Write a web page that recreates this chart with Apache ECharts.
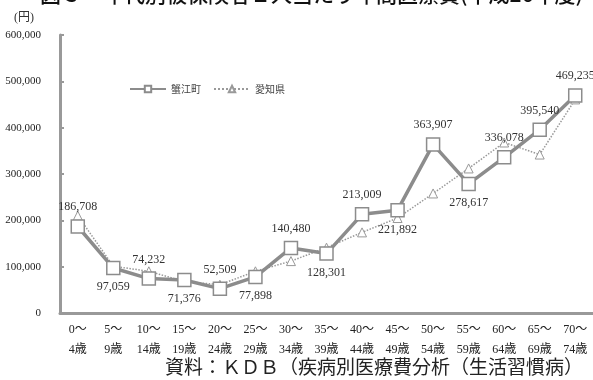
<!DOCTYPE html>
<html>
<head>
<meta charset="utf-8">
<script src="https://cdn.jsdelivr.net/npm/echarts@6/dist/echarts.min.js"></script>
<style>
  html, body { margin: 0; padding: 0; background: #fff; }
  #chart { width: 593px; height: 380px; }
</style>
</head>
<body>
<div id="chart"></div>
<script>
// Age bands (two-line labels)
const ageBands = ['0～\n4歳', '5～\n9歳', '10～\n14歳', '15～\n19歳', '20～\n24歳', '25～\n29歳', '30～\n34歳', '35～\n39歳', '40～\n44歳', '45～\n49歳', '50～\n54歳', '55～\n59歳', '60～\n64歳', '65～\n69歳', '70～\n74歳'];
// Annual medical cost per insured person (yen)
const kanieValues = [186708, 97059, 74232, 71376, 52509, 77898, 140480, 128301, 213009, 221892, 363907, 278617, 336078, 395540, 469235];
const aichiValues = [210000, 101000, 90000, 68000, 61000, 90000, 112000, 141000, 174000, 205000, 258000, 312000, 368000, 342000, 461000];
// Value label placement for the town series
const kanieLabelPos = ['top', 'bottom', 'top', 'bottom', 'top', 'bottom', 'top', 'bottom', 'top', 'bottom', 'top', 'bottom', 'top', 'top', 'top'];
const yTicks = { min: 0, max: 600000, interval: 100000 };

const serif = '"Liberation Serif", "DejaVu Serif", "Noto Sans CJK JP", serif';
const cjk = '"Noto Sans CJK JP", sans-serif';
const grey = '#8c8c8c';

const chart = echarts.init(document.getElementById('chart'), null, { renderer: 'canvas' });

chart.setOption({
  animation: false,
  backgroundColor: '#fff',
  graphic: [
    {
      type: 'text', left: 40, top: -16,
      style: { text: '図３　年代別被保険者１人当たり年間医療費(平成26年度)', font: '500 21px ' + cjk, fill: '#111' }
    },
    {
      type: 'text', left: 14, top: 12,
      style: { text: '(円)', font: '12px ' + serif, fill: '#333' }
    },
    {
      type: 'text', left: 165, top: 357,
      style: { text: '資料：ＫＤＢ（疾病別医療費分析（生活習慣病）', font: '19px ' + cjk, fill: '#222' }
    }
  ],
  legend: {
    left: 124, top: 79,
    itemGap: 12,
    itemWidth: 36, itemHeight: 8,
    textStyle: { fontFamily: cjk, fontSize: 10, color: '#444' },
    data: ['蟹江町', '愛知県']
  },
  grid: { left: 60, right: 0, top: 35, bottom: 67, containLabel: false },
  xAxis: {
    type: 'category',
    data: ageBands,
    boundaryGap: true,
    axisLine: { lineStyle: { color: '#999', width: 3 } },
    axisTick: { inside: true, length: 4, lineStyle: { color: '#999', width: 2 } },
    axisLabel: { fontFamily: serif, fontSize: 12, color: '#222', lineHeight: 20, margin: 7, interval: 0 }
  },
  yAxis: {
    type: 'value',
    min: yTicks.min, max: yTicks.max, interval: yTicks.interval,
    splitLine: { show: false },
    axisLine: { show: true, lineStyle: { color: '#999', width: 3 } },
    axisTick: { show: true, inside: true, length: 4, lineStyle: { color: '#999', width: 2 } },
    axisLabel: {
      fontFamily: serif, fontSize: 11, color: '#222', margin: 19,
      formatter: v => v.toLocaleString('en-US')
    }
  },
  series: [
    {
      name: '蟹江町',
      type: 'line',
      z: 3,
      data: kanieValues.map((v, i) => ({ value: v, label: { position: kanieLabelPos[i] } })),
      symbol: 'rect', symbolSize: 13,
      lineStyle: { color: grey, width: 3.5 },
      itemStyle: { color: '#fff', borderColor: grey, borderWidth: 1.5 },
      label: {
        show: true, distance: 6,
        fontFamily: serif, fontSize: 12, color: '#333',
        formatter: p => p.value.toLocaleString('en-US')
      }
    },
    {
      name: '愛知県',
      type: 'line',
      z: 2,
      data: aichiValues,
      symbol: 'triangle', symbolSize: 9,
      lineStyle: { color: '#999', width: 1.5, type: 'dotted' },
      itemStyle: { color: '#fff', borderColor: '#999', borderWidth: 1 }
    }
  ]
});
</script>
</body>
</html>
